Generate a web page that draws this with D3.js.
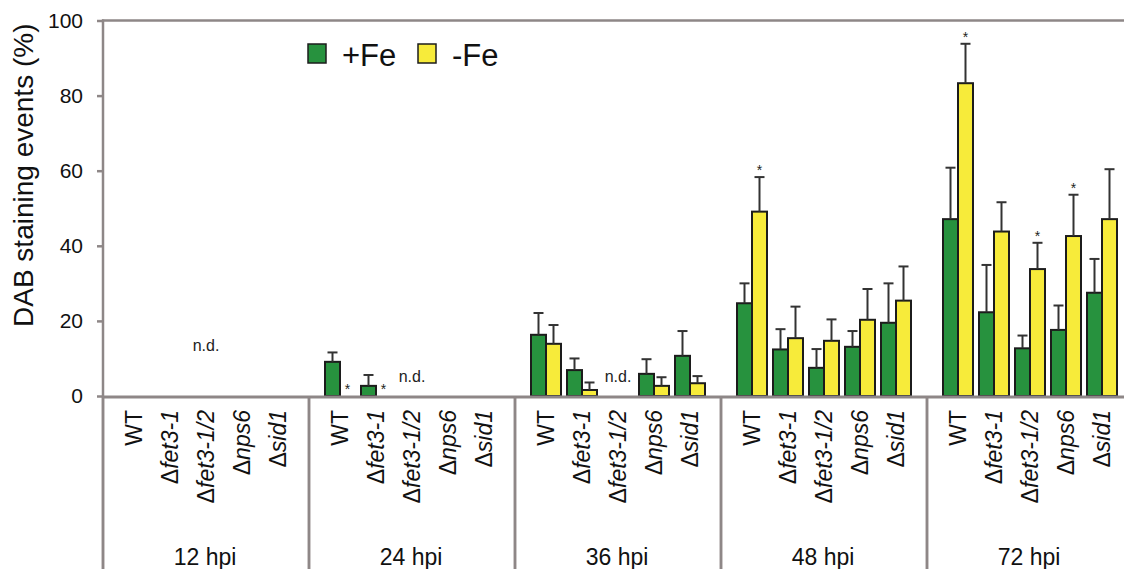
<!DOCTYPE html>
<html>
<head>
<meta charset="utf-8">
<script src="https://cdn.jsdelivr.net/npm/d3@7/dist/d3.min.js"></script>
<style>
  html, body { margin: 0; padding: 0; background: #fff; }
  svg { display: block; font-family: "Liberation Sans", Arial, sans-serif; }
</style>
</head>
<body>
<svg id="chart" width="1124" height="569"></svg>
<script>
// Time points (outer categories) and strains (inner categories)
const groups = ["12 hpi", "24 hpi", "36 hpi", "48 hpi", "72 hpi"];
const strains = ["WT", "Δfet3-1", "Δfet3-1/2", "Δnps6", "Δsid1"];
const series = ["+Fe", "-Fe"];

// Mean DAB staining events (%) per time point, strain order as above; null = not determined
const plusFe = [
  [null, null, null, null, null],
  [9.1, 2.7, null, null, null],
  [16.3, 6.9, null, 5.9, 10.7],
  [24.7, 12.4, 7.5, 13.1, 19.5],
  [47.1, 22.3, 12.7, 17.6, 27.5]
];
const plusFeErr = [
  [null, null, null, null, null],
  [2.5, 2.9, null, null, null],
  [5.8, 3.1, null, 3.9, 6.6],
  [5.3, 5.4, 5.0, 4.2, 10.5],
  [13.7, 12.6, 3.4, 6.5, 9.0]
];
const minusFe = [
  [null, null, null, null, null],
  [0, 0, null, null, null],
  [13.9, 1.6, null, 2.7, 3.4],
  [49.1, 15.4, 14.7, 20.3, 25.4],
  [83.3, 43.8, 33.8, 42.6, 47.1]
];
const minusFeErr = [
  [null, null, null, null, null],
  [0, 0, null, null, null],
  [5.0, 2.0, null, 2.3, 1.9],
  [9.2, 8.4, 5.7, 8.2, 9.1],
  [10.5, 7.8, 7.0, 11.0, 13.3]
];

const yTicks = [0, 20, 40, 60, 80, 100];

// "n.d." annotations and significance marks
const notDetermined = [
  { group: "12 hpi", strain: "Δfet3-1/2" },
  { group: "24 hpi", strain: "Δfet3-1/2" },
  { group: "36 hpi", strain: "Δfet3-1/2" }
];
const significant = [
  { group: "24 hpi", strain: "WT", series: "-Fe" },
  { group: "24 hpi", strain: "Δfet3-1", series: "-Fe" },
  { group: "48 hpi", strain: "WT", series: "-Fe" },
  { group: "72 hpi", strain: "WT", series: "-Fe" },
  { group: "72 hpi", strain: "Δfet3-1/2", series: "-Fe" },
  { group: "72 hpi", strain: "Δnps6", series: "-Fe" }
];

const colors = { "+Fe": "#27923e", "-Fe": "#f7eb3a" };
const axisColor = "#8e8787";

const svg = d3.select("#chart");
const baseY = 396, topY = 20.5, plotLeft = 102, W = 1124, H = 569;

const y = d3.scaleLinear().domain([0, 100]).range([baseY, topY]);
const gx = d3.scaleBand().domain(groups).range([plotLeft, plotLeft + 5 * 206]).padding(0);
const cx = d3.scaleBand().domain(strains).range([14, 194]).paddingInner(6 / 36).paddingOuter(3 / 36);
const sx = d3.scaleBand().domain(series).range([0, cx.bandwidth()]).padding(0);

// Flatten data into records
const records = [];
groups.forEach((g, gi) => strains.forEach((s, si) => {
  records.push({ group: g, strain: s, series: "+Fe", value: plusFe[gi][si], err: plusFeErr[gi][si] });
  records.push({ group: g, strain: s, series: "-Fe", value: minusFe[gi][si], err: minusFeErr[gi][si] });
}));
const barX = d => gx(d.group) + cx(d.strain) + sx(d.series);

// Plot frame: top line and baseline
svg.append("line").attr("x1", plotLeft).attr("x2", W).attr("y1", y(100)).attr("y2", y(100))
  .attr("stroke", axisColor).attr("stroke-width", 2.5);

// Y axis
const yAxis = d3.axisLeft(y).tickValues(yTicks).tickSize(6).tickPadding(14).tickSizeOuter(0);
const ya = svg.append("g").attr("transform", `translate(${plotLeft + 1},0)`).call(yAxis);
ya.select(".domain").remove();
ya.selectAll(".tick line").attr("stroke", axisColor).attr("stroke-width", 2.5);
ya.selectAll(".tick text").attr("font-size", 21).attr("fill", "#111")
  .attr("font-family", "'Liberation Sans', Arial, sans-serif");

// Y axis line extends down through the category area
svg.append("line").attr("x1", plotLeft + 1).attr("x2", plotLeft + 1).attr("y1", topY - 1).attr("y2", H)
  .attr("stroke", axisColor).attr("stroke-width", 2.5);

// Y title
svg.append("text")
  .attr("transform", `translate(33,${(topY + baseY) / 2 - 33}) rotate(-90)`)
  .attr("text-anchor", "middle").attr("font-size", 28).attr("fill", "#111")
  .text("DAB staining events (%)");

// Bars
svg.append("g").selectAll("rect")
  .data(records.filter(d => d.value !== null && d.value > 0))
  .join("rect")
  .attr("x", barX)
  .attr("width", sx.bandwidth())
  .attr("y", d => y(d.value))
  .attr("height", d => baseY - y(d.value))
  .attr("fill", d => colors[d.series])
  .attr("stroke", "#1c1c1c").attr("stroke-width", 2);

// Error bars (upper only)
const eg = svg.append("g").attr("stroke", "#333").attr("stroke-width", 2);
records.filter(d => d.value !== null && d.err > 0).forEach(d => {
  const c = barX(d) + sx.bandwidth() / 2;
  eg.append("line").attr("x1", c).attr("x2", c).attr("y1", y(d.value)).attr("y2", y(d.value + d.err));
  eg.append("line").attr("x1", c - 5).attr("x2", c + 5).attr("y1", y(d.value + d.err)).attr("y2", y(d.value + d.err));
});

// X baseline drawn over bar bottoms
svg.append("line").attr("x1", plotLeft).attr("x2", W).attr("y1", baseY + 1).attr("y2", baseY + 1)
  .attr("stroke", axisColor).attr("stroke-width", 3);

// Group separators
groups.forEach(g => {
  [gx(g), gx(g) + gx.bandwidth()].forEach(x => {
    svg.append("line").attr("x1", x + 1).attr("x2", x + 1).attr("y1", baseY).attr("y2", H)
      .attr("stroke", axisColor).attr("stroke-width", 2.5);
  });
});

// Strain labels (rotated), gene names in italics after the Δ
groups.forEach(g => strains.forEach(s => {
  const x = gx(g) + cx(s) + cx.bandwidth() / 2;
  const t = svg.append("text")
    .attr("transform", `translate(${x},410) rotate(-90)`)
    .attr("text-anchor", "end").attr("dy", "0.35em")
    .attr("font-size", 23).attr("fill", "#111");
  if (s.startsWith("Δ")) {
    t.append("tspan").text("Δ");
    t.append("tspan").attr("font-style", "italic").text(s.slice(1));
  } else {
    t.text(s);
  }
}));

// Time point labels
groups.forEach(g => {
  svg.append("text").attr("x", gx(g) + gx.bandwidth() / 2).attr("y", 565)
    .attr("text-anchor", "middle").attr("font-size", 23).attr("fill", "#111").text(g);
});

// n.d. annotations
notDetermined.forEach(d => {
  const gi = groups.indexOf(d.group);
  const empty = plusFe[gi].every(v => v === null);
  svg.append("text")
    .attr("x", gx(d.group) + cx(d.strain) + cx.bandwidth() / 2)
    .attr("y", empty ? y(12) : y(3.8))
    .attr("text-anchor", "middle").attr("font-size", 16).attr("fill", "#222").text("n.d.");
});

// Significance asterisks above the error bars
significant.forEach(m => {
  const d = records.find(r => r.group === m.group && r.strain === m.strain && r.series === m.series);
  const top = y((d.value || 0) + (d.err || 0));
  svg.append("text")
    .attr("x", barX(d) + sx.bandwidth() / 2).attr("y", top - 2)
    .attr("text-anchor", "middle").attr("font-size", 14).attr("fill", "#222").text("*");
});

// Legend
const legend = svg.append("g");
series.forEach((s, i) => {
  const lx = 308 + i * 110;
  legend.append("rect").attr("x", lx).attr("y", 44).attr("width", 18).attr("height", 19)
    .attr("fill", colors[s]).attr("stroke", "#1c1c1c").attr("stroke-width", 1.5);
  legend.append("text").attr("x", lx + 34).attr("y", 66).attr("font-size", 31).attr("fill", "#111").text(s);
});
</script>
</body>
</html>
